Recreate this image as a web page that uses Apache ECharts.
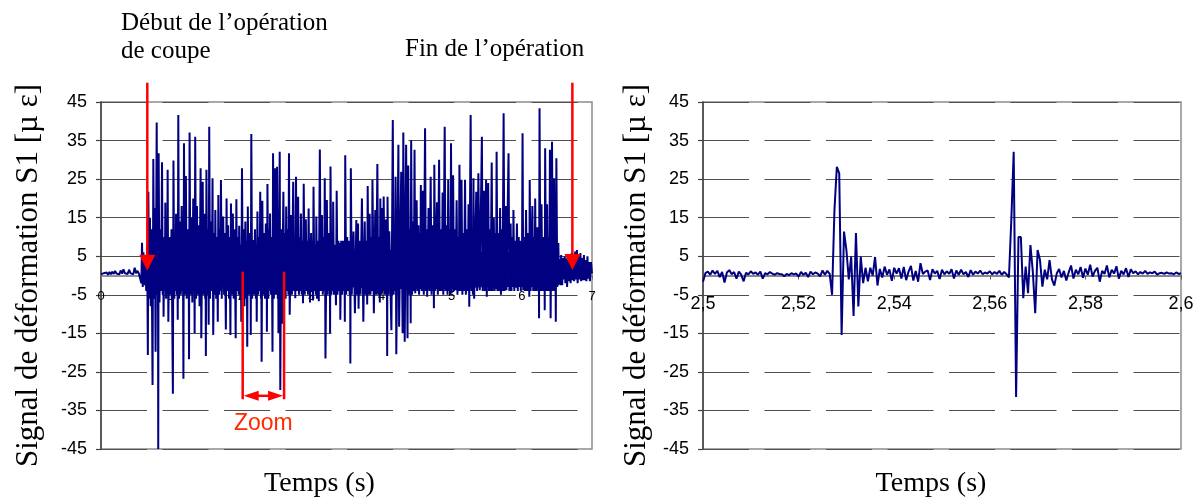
<!DOCTYPE html>
<html><head><meta charset="utf-8">
<script src="https://cdn.jsdelivr.net/npm/echarts@6/dist/echarts.min.js"></script>
<style>html,body{margin:0;padding:0;background:#fff}#c{width:1203px;height:503px}</style>
</head><body><div id="c"></div>
<script>
// ---------------- DATA ----------------
const yTicks = [-45, -35, -25, -15, -5, 5, 15, 25, 35, 45];
const leftXTicks = [0, 1, 2, 3, 4, 5, 6, 7];
const zoomXTicks = [2.5, 2.52, 2.54, 2.56, 2.58, 2.6];

// full record, time (s) / strain (µε)
const baselineSignal = [[0,0.3],[0.02,-0.2],[0.04,0.6],[0.06,0.1],[0.08,0.8],[0.1,0.2],[0.12,0.9],[0.14,0.3],[0.16,1.0],[0.18,0.4],[0.2,1.2],[0.22,0.5],[0.24,1.0],[0.26,0.3],[0.28,1.3],[0.3,0.5],[0.32,1.6],[0.34,0.6],[0.36,1.1],[0.38,0.4],[0.4,1.5],[0.42,0.6],[0.44,0.9],[0.46,0.3],[0.48,2.0],[0.5,0.6],[0.52,1.2],[0.54,0.5],[0.56,1.0]];

const cuttingSignal = [[0.575,-2],[0.585,8.5],[0.595,-3],[0.605,6],[0.615,-2.5],[0.63,5],[0.645,-4],[0.658,8],[0.668,-20.6],[0.675,21.7],[0.686,-6],[0.698,15],[0.708,-8],[0.72,12],[0.735,-28.4],[0.746,30.2],[0.757,-6],[0.768,17.5],[0.778,-19.8],[0.794,39.7],[0.805,-5],[0.812,6],[0.816,-45],[0.822,31.7],[0.834,-7],[0.846,12],[0.857,-4],[0.87,29.4],[0.88,-5],[0.886,8],[0.892,-10.7],[0.905,10],[0.911,-4],[0.917,18.9],[0.928,-6],[0.94,9],[0.945,-3],[0.95,27.4],[0.96,-12],[0.975,10],[0.99,-5],[1.005,12],[1.025,-30.7],[1.033,29.8],[1.045,-6],[1.057,11],[1.063,-4],[1.07,16],[1.082,-5],[1.088,7],[1.094,-11.5],[1.102,41.6],[1.112,-6],[1.125,14],[1.138,-5],[1.15,18],[1.162,-4],[1.168,8],[1.175,-26.8],[1.183,34.3],[1.195,-5],[1.21,25.8],[1.222,-6],[1.235,12],[1.245,-4],[1.25,7],[1.255,-21.7],[1.263,37.1],[1.275,-5],[1.29,15],[1.302,-7],[1.315,20],[1.325,-4],[1.33,6],[1.335,-15],[1.343,36],[1.355,-6],[1.368,18],[1.38,-5],[1.392,13],[1.405,-8],[1.42,27.8],[1.43,-16.3],[1.45,24.3],[1.46,-5],[1.475,16],[1.485,-6],[1.49,7],[1.495,-20.9],[1.503,27.4],[1.515,-5],[1.525,12],[1.535,-12.8],[1.543,38.6],[1.555,-6],[1.57,14],[1.58,-4],[1.59,25.2],[1.6,-15.4],[1.615,11],[1.622,-5],[1.63,17],[1.642,-6],[1.655,10],[1.665,-12],[1.673,20.9],[1.685,-5],[1.698,12],[1.704,-4],[1.71,24.8],[1.722,-6],[1.732,9],[1.737,-3],[1.742,15.3],[1.755,-5],[1.767,11],[1.78,-14],[1.79,20],[1.8,-4],[1.812,13],[1.825,-6],[1.835,10],[1.845,-15.4],[1.853,18.7],[1.865,-5],[1.88,16.1],[1.892,-6],[1.905,12],[1.92,-16.3],[1.93,19.8],[1.94,-4],[1.955,10],[1.962,-5],[1.97,12.9],[1.985,-6],[1.993,8],[2.0,-12],[2.01,27.8],[2.022,-5],[2.035,12],[2.045,-8],[2.058,14],[2.07,-6],[2.078,9],[2.085,-18.5],[2.093,17.9],[2.105,-5],[2.118,11],[2.128,-4],[2.132,7],[2.135,-15.4],[2.143,36.7],[2.155,-6],[2.17,9.2],[2.182,-5],[2.195,12],[2.208,-6],[2.215,8],[2.22,-12],[2.23,16.6],[2.242,-5],[2.255,10],[2.262,-4],[2.27,21.7],[2.28,-6],[2.285,7],[2.29,-22.4],[2.3,19.4],[2.312,-5],[2.325,11],[2.338,-6],[2.35,13.5],[2.358,-4],[2.362,6],[2.365,-14.6],[2.373,23.7],[2.385,-6],[2.398,12],[2.404,-4],[2.41,16.1],[2.422,-5],[2.435,10],[2.445,-19.8],[2.453,31.7],[2.465,-6],[2.48,27.8],[2.492,-5],[2.51,28.2],[2.52,-6],[2.525,8],[2.53,-15],[2.548,32.1],[2.556,-29.7],[2.568,12],[2.58,-12.5],[2.6,21.7],[2.612,-5],[2.625,11],[2.632,-6],[2.64,17.9],[2.652,-4],[2.665,12],[2.672,-5],[2.68,31.7],[2.69,-10.2],[2.71,15.7],[2.722,-5],[2.74,24.3],[2.752,-4],[2.765,9],[2.77,-5.9],[2.78,25.6],[2.792,-4],[2.81,20.4],[2.822,-5],[2.835,10],[2.842,-4],[2.85,16.1],[2.862,-5],[2.875,9],[2.88,-7.2],[2.89,23.8],[2.905,-5],[2.92,14.6],[2.932,-4],[2.945,9],[2.95,-5],[2.96,17.4],[2.972,-4],[2.976,6],[2.98,-7],[2.995,11],[3.005,-4],[3.015,9],[3.022,-6.5],[3.03,23],[3.042,-4],[3.055,8],[3.062,-5],[3.07,15.3],[3.08,-6],[3.095,9],[3.105,-6.7],[3.12,32.7],[3.132,-4],[3.15,15.7],[3.162,-5],[3.175,10],[3.182,-4],[3.19,25.2],[3.2,-21.5],[3.22,19.6],[3.232,-5],[3.245,11],[3.255,-4],[3.262,7],[3.266,-15],[3.272,28.3],[3.285,-5],[3.298,10],[3.304,-4],[3.31,19.1],[3.322,-5],[3.335,8],[3.35,-7.7],[3.36,22],[3.372,-5],[3.385,9],[3.395,-4],[3.405,8.4],[3.412,-11.5],[3.425,9],[3.438,-5],[3.45,9],[3.465,-4],[3.472,7],[3.476,-12],[3.482,31.2],[3.495,-5],[3.51,10],[3.52,-4],[3.53,9],[3.545,-5],[3.552,7],[3.555,-22.8],[3.562,27.8],[3.575,-5],[3.6,11.4],[3.62,-9.8],[3.64,14.4],[3.652,-5],[3.665,13.5],[3.672,-8.6],[3.685,9],[3.7,-5],[3.72,20],[3.74,-12],[3.76,14],[3.772,-5],[3.785,9],[3.795,-7.5],[3.802,23.2],[3.815,-5],[3.83,16],[3.842,-5],[3.855,10],[3.862,-4],[3.87,24.8],[3.89,-9.8],[3.91,17],[3.922,-5],[3.94,28.9],[3.952,-5],[3.965,10],[3.975,-7],[3.982,20],[3.995,-5],[4.01,17.5],[4.02,-4],[4.03,20.5],[4.045,-5],[4.06,14.5],[4.072,-5],[4.076,6],[4.08,-20.9],[4.085,20.4],[4.098,-5],[4.11,11.5],[4.14,-14.2],[4.16,40.3],[4.172,-5],[4.185,12],[4.19,-4],[4.2,25.6],[4.21,-20.4],[4.24,33.9],[4.25,-13.3],[4.28,26.9],[4.3,-15],[4.31,37.1],[4.33,-17.2],[4.35,33.9],[4.37,-16.3],[4.38,28.5],[4.395,-5],[4.41,12],[4.415,-12.4],[4.422,35.1],[4.435,-5],[4.45,14],[4.46,-4],[4.47,32.6],[4.48,-4.6],[4.5,19.5],[4.512,-4],[4.525,13],[4.535,-5],[4.545,11],[4.552,-3.5],[4.56,23.5],[4.572,-4],[4.59,22],[4.602,-5],[4.62,38.2],[4.632,-4],[4.642,12],[4.65,-5.5],[4.67,17.5],[4.682,-4],[4.7,25.6],[4.712,-5],[4.725,13],[4.735,-4],[4.742,9],[4.746,-8.5],[4.752,28.7],[4.765,-4],[4.79,19],[4.802,-5],[4.82,30],[4.832,-4],[4.85,12],[4.86,-4],[4.87,21.5],[4.88,-5],[4.9,38.6],[4.912,-4],[4.93,13],[4.94,-5],[4.95,24.8],[4.962,-4],[4.975,12],[4.982,-5],[4.99,34.3],[5.0,-4.6],[5.02,26],[5.032,-4],[5.045,12],[5.055,-3.8],[5.07,19.5],[5.082,-5],[5.095,10],[5.102,-4],[5.11,28.7],[5.125,-4],[5.14,24.8],[5.152,-5],[5.165,11],[5.175,-4],[5.19,24.8],[5.202,-5],[5.215,12],[5.228,-4],[5.24,18.5],[5.25,-8.1],[5.27,41.6],[5.282,-4],[5.295,12],[5.302,-5],[5.31,25.2],[5.32,-6],[5.35,21.7],[5.362,-4],[5.38,26.5],[5.4,-3.8],[5.43,36],[5.442,-4],[5.46,22],[5.472,-4],[5.49,24.8],[5.5,-5.5],[5.52,24],[5.532,-4],[5.545,12],[5.555,-4],[5.57,29.3],[5.582,-4],[5.6,15],[5.612,-4],[5.625,11],[5.632,-3.5],[5.64,32.1],[5.652,-4],[5.665,11],[5.675,-4],[5.69,17.5],[5.702,-5],[5.715,12],[5.725,-4],[5.74,42.1],[5.752,-4],[5.77,18],[5.78,-3.8],[5.81,31.7],[5.822,-4],[5.84,13.5],[5.852,-4],[5.865,10],[5.872,-3],[5.88,17],[5.892,-4],[5.905,9],[5.915,-3.2],[5.93,13.5],[5.942,-4],[5.955,10],[5.965,-3],[5.975,9],[5.985,-4],[5.995,8],[6.0,-3],[6.01,36.9],[6.02,-3.8],[6.035,10],[6.045,-4],[6.06,17],[6.072,-4],[6.085,11],[6.095,-4],[6.102,9],[6.106,-5.5],[6.112,24.8],[6.125,-4],[6.15,18],[6.162,-4],[6.175,10],[6.182,-4],[6.19,20],[6.202,-4],[6.22,12.5],[6.232,-4],[6.24,8],[6.245,-11.1],[6.252,43.4],[6.265,-4],[6.28,18.5],[6.292,-4],[6.305,10],[6.315,-4],[6.322,8],[6.326,-9],[6.332,33],[6.345,-4],[6.36,18.5],[6.372,-4],[6.385,10],[6.392,-4],[6.4,32.6],[6.41,-11.1],[6.43,34.7],[6.442,-4],[6.46,25.2],[6.472,-4],[6.478,7],[6.484,-12],[6.492,30.4],[6.505,-3],[6.52,8.4]];

const tailSignal = [[6.53,-2],[6.54,4],[6.55,-2.5],[6.56,5.3],[6.575,-2.5],[6.585,4.5],[6.6,-1],[6.61,5],[6.62,-2],[6.635,4.5],[6.645,-3],[6.66,5.5],[6.67,-1.5],[6.685,4],[6.695,-2],[6.71,5.8],[6.72,-1.2],[6.73,5],[6.745,-1.5],[6.76,6.2],[6.77,-1],[6.785,6.6],[6.795,-2],[6.81,5],[6.82,-1],[6.835,5.8],[6.845,-1.5],[6.86,4.5],[6.87,-1.2],[6.885,5.3],[6.895,-1.2],[6.91,4],[6.92,-1.5],[6.935,5],[6.945,-0.8],[6.96,3.5],[6.97,-1.5],[6.985,3.5],[7.0,0.5]];

// dense core of the cutting signal (envelope)
const bandT    = [0.62, 0.7, 1.0, 1.5, 2.0, 2.5, 3.0, 3.5, 4.0, 4.5, 5.0, 5.5, 6.0, 6.5, 6.55];
const bandHigh = [3, 6, 6, 5.5, 5, 5.5, 5, 5.5, 6.5, 7, 6.5, 6, 6, 5, 4];
const bandLow  = [-1, -3.5, -3.5, -3, -3, -3, -3, -3, -3.5, -3.5, -3.5, -3, -3, -3, -2];

// zoom 2.5 s – 2.6 s, one sample every 0.5 ms
const zoomT0 = 2.5, zoomDt = 0.0005;
const zoomValues = [-1.6,0.6,1.0,0.2,1.3,0.4,1.2,-0.4,0.9,-1.8,0.8,1.4,0.3,0.9,-0.8,1.0,0.2,-1.5,0.7,0.3,1.1,0.4,0.8,0.2,1.0,-0.8,0.6,0.3,0.9,0.5,0.2,0.6,0.4,0.3,-0.2,0.4,0.1,0.6,0.3,0.5,-0.3,0.9,0.2,0.7,-0.4,1.0,0.3,0.8,0.5,-0.2,1.3,0.2,1.2,0.4,
-5,17,28.2,26.5,-15.4,11.4,6.6,-1,4.9,-10.5,11,-8,4.9,-2,2,-1.5,2,0,4.8,-2.6,1.7,-0.5,2.3,
0.2,1.6,-1.4,2.0,0.5,1.9,-0.8,2.2,-1.2,1.0,2.5,-1.3,1.2,-1.6,3.2,0.4,1.0,1.3,-1.2,1.6,0.5,1.2,-0.9,1.5,0.3,1.1,0.4,1.6,-0.8,1.3,0.2,1.5,0.3,0.9,-0.4,1.4,0.2,1.0,0.5,1.3,0.3,0.8,0.5,1.1,0.3,0.9,0.4,1.2,0.2,0.9,0.3,
-0.5,14.4,32.1,-31.5,10,10,-5.9,2.3,-4.6,7.9,1,-9.8,6.6,4,-2.9,1.5,-1,4,-1,-2.6,0.5,1.7,-0.5,
1.2,-1.3,0.8,2.6,-0.8,1.5,0.3,2.2,-0.6,1.8,0.2,2.8,-0.3,1.2,2.0,-1.6,1.2,0.4,2.6,-0.5,1.5,0.5,2.4,-0.8,1.2,0.3,1.9,-0.4,1.6,0.6,1.1,0.3,0.9,0.5,1.2,0.4,0.8,0.6,1.0,0.2,0.6,0.7,0.4,0.8,0.5,0.6,0.3,0.8,0.4,0.6];

// annotations (data coordinates of the left chart)
const startArrow = {t: 0.66, top: 50, tip: 1.2};
const endArrow = {t: 6.72, top: 50, tip: 1.4};
const zoomSpan = {t1: 2.02, t2: 2.61, top: 1.0, bottom: -32.1, arrowY: -31.2, labelY: -38.5};

// ---------------- CHART ----------------
const SANS = 'Arial, "Liberation Sans", sans-serif';
const SERIF = '"Times New Roman", "Liberation Serif", serif';
const NAVY = '#000080';
const GRID_H = 347;
const leftSignal = baselineSignal.concat(cuttingSignal, tailSignal);
const zoomSignal = zoomValues.map((v, i) => [zoomT0 + i * zoomDt, v]);
const bandUpper = bandT.map((t, i) => [t, bandHigh[i]]);
const bandLower = bandT.map((t, i) => [t, bandLow[i]]);
const yMin = yTicks[0], yMax = yTicks[yTicks.length - 1];
// x axis sits on the value 0 line
const zeroOffset = -GRID_H * (0 - yMin) / (yMax - yMin);

const chart = echarts.init(document.getElementById('c'), null, {renderer: 'canvas'});

function yAxisDef(gridIndex, nameGap) {
  return {
    type: 'value', gridIndex,
    min: yMin, max: yMax, interval: 10,
    name: 'Signal de déformation S1 [µ ε]', nameLocation: 'middle', nameGap,
    nameRotate: 90,
    nameTextStyle: {fontFamily: SERIF, fontSize: 31, color: '#000'},
    axisLine: {show: true, onZero: false, lineStyle: {color: '#404040', width: 1.5}},
    axisTick: {show: true, length: 5, lineStyle: {color: '#404040', width: 1.2}},
    axisLabel: {fontFamily: SANS, fontSize: 18, color: '#000', margin: 14},
    splitLine: {show: true, lineStyle: {color: '#505050', width: 1.2, type: [46, 15.5]}}
  };
}

const option = {
  animation: false,
  backgroundColor: '#fff',
  grid: [
    {left: 101, top: 102, width: 491, height: GRID_H, show: true, borderColor: '#8c8c8c', borderWidth: 1.5, outerBoundsMode: 'none', containLabel: false},
    {left: 703, top: 102, width: 478, height: GRID_H, show: true, borderColor: '#8c8c8c', borderWidth: 1.5, outerBoundsMode: 'none', containLabel: false}
  ],
  xAxis: [
    {
      type: 'value', gridIndex: 0, position: 'bottom', offset: zeroOffset,
      min: leftXTicks[0], max: leftXTicks[leftXTicks.length - 1], interval: 1,
      name: 'Temps (s)', nameLocation: 'middle', nameGap: 194,
      nameTextStyle: {fontFamily: SERIF, fontSize: 28, color: '#000', padding: [0, 54, 0, 0]},
      axisLine: {show: true, onZero: false, lineStyle: {color: '#707070', width: 1.5}},
      axisTick: {show: true, length: 4, lineStyle: {color: '#707070'}},
      axisLabel: {fontFamily: SANS, fontSize: 13, color: '#000', margin: 14},
      splitLine: {show: false}
    },
    {
      type: 'value', gridIndex: 1, position: 'bottom', offset: zeroOffset,
      min: zoomXTicks[0], max: zoomXTicks[zoomXTicks.length - 1], interval: 0.02,
      name: 'Temps (s)', nameLocation: 'middle', nameGap: 194,
      nameTextStyle: {fontFamily: SERIF, fontSize: 28, color: '#000', padding: [0, 22, 0, 0]},
      axisLine: {show: true, onZero: false, lineStyle: {color: '#606060', width: 1.5}},
      axisTick: {show: true, length: 4, lineStyle: {color: '#606060'}},
      axisLabel: {fontFamily: SANS, fontSize: 18, color: '#000', margin: 20,
        formatter: v => String(+(+v).toFixed(2)).replace('.', ',')},
      splitLine: {show: false}
    }
  ],
  yAxis: [yAxisDef(0, 57), yAxisDef(1, 51)],
  series: [
    {type: 'line', xAxisIndex: 0, yAxisIndex: 0, data: bandUpper, symbol: 'none',
      lineStyle: {width: 0}, areaStyle: {color: NAVY, opacity: 1}, z: 2},
    {type: 'line', xAxisIndex: 0, yAxisIndex: 0, data: bandLower, symbol: 'none',
      lineStyle: {width: 0}, areaStyle: {color: NAVY, opacity: 1}, z: 2},
    {type: 'line', xAxisIndex: 0, yAxisIndex: 0, data: leftSignal, symbol: 'none',
      lineStyle: {color: NAVY, width: 2}, z: 3},
    {type: 'line', xAxisIndex: 1, yAxisIndex: 1, data: zoomSignal, symbol: 'none',
      lineStyle: {color: NAVY, width: 2}, z: 3}
  ]
};
chart.setOption(option);

// annotations placed through the left chart's scales
const P = (t, v) => chart.convertToPixel({xAxisIndex: 0, yAxisIndex: 0}, [t, v]);
const RED = '#ff0000';
function downArrow(a) {
  const top = P(a.t, a.top), tip = P(a.t, a.tip);
  const headLen = 16, half = 8;
  return [
    {type: 'line', z: 100, shape: {x1: top[0], y1: top[1], x2: tip[0], y2: tip[1] - headLen + 2}, style: {stroke: RED, lineWidth: 2.5}},
    {type: 'polygon', z: 100, shape: {points: [[tip[0] - half, tip[1] - headLen], [tip[0] + half, tip[1] - headLen], [tip[0], tip[1]]]}, style: {fill: RED}}
  ];
}
const zA = P(zoomSpan.t1, zoomSpan.top), zB = P(zoomSpan.t1, zoomSpan.bottom);
const zC = P(zoomSpan.t2, zoomSpan.top), zD = P(zoomSpan.t2, zoomSpan.bottom);
const ay = P(zoomSpan.t1, zoomSpan.arrowY)[1];
const lab = P((zoomSpan.t1 + zoomSpan.t2) / 2, zoomSpan.labelY);
const hl = 16, hh = 5;
const graphics = [].concat(
  downArrow(startArrow), downArrow(endArrow),
  [
    {type: 'line', z: 100, shape: {x1: zA[0], y1: zA[1], x2: zB[0], y2: zB[1]}, style: {stroke: RED, lineWidth: 2.5}},
    {type: 'line', z: 100, shape: {x1: zC[0], y1: zC[1], x2: zD[0], y2: zD[1]}, style: {stroke: RED, lineWidth: 2.5}},
    {type: 'line', z: 100, shape: {x1: zA[0] + hl - 2, y1: ay, x2: zC[0] - hl + 2, y2: ay}, style: {stroke: RED, lineWidth: 2.5}},
    {type: 'polygon', z: 100, shape: {points: [[zA[0] + 1, ay], [zA[0] + hl, ay - hh], [zA[0] + hl, ay + hh]]}, style: {fill: RED}},
    {type: 'polygon', z: 100, shape: {points: [[zC[0] - 1, ay], [zC[0] - hl, ay - hh], [zC[0] - hl, ay + hh]]}, style: {fill: RED}},
    {type: 'text', z: 100, x: lab[0], y: lab[1], style: {text: 'Zoom', font: '23px ' + SANS, fill: '#ff2a00', align: 'center', verticalAlign: 'middle'}},
    {type: 'text', z: 100, x: 121, y: 11, style: {text: 'Début de l’opération', font: '25px ' + SERIF, fill: '#000', align: 'left', verticalAlign: 'top'}},
    {type: 'text', z: 100, x: 121, y: 39, style: {text: 'de coupe', font: '25px ' + SERIF, fill: '#000', align: 'left', verticalAlign: 'top'}},
    {type: 'text', z: 100, x: 405, y: 37, style: {text: 'Fin de l’opération', font: '25px ' + SERIF, fill: '#000', align: 'left', verticalAlign: 'top'}}
  ]
);
chart.setOption({graphic: graphics});
</script>
</body></html>
